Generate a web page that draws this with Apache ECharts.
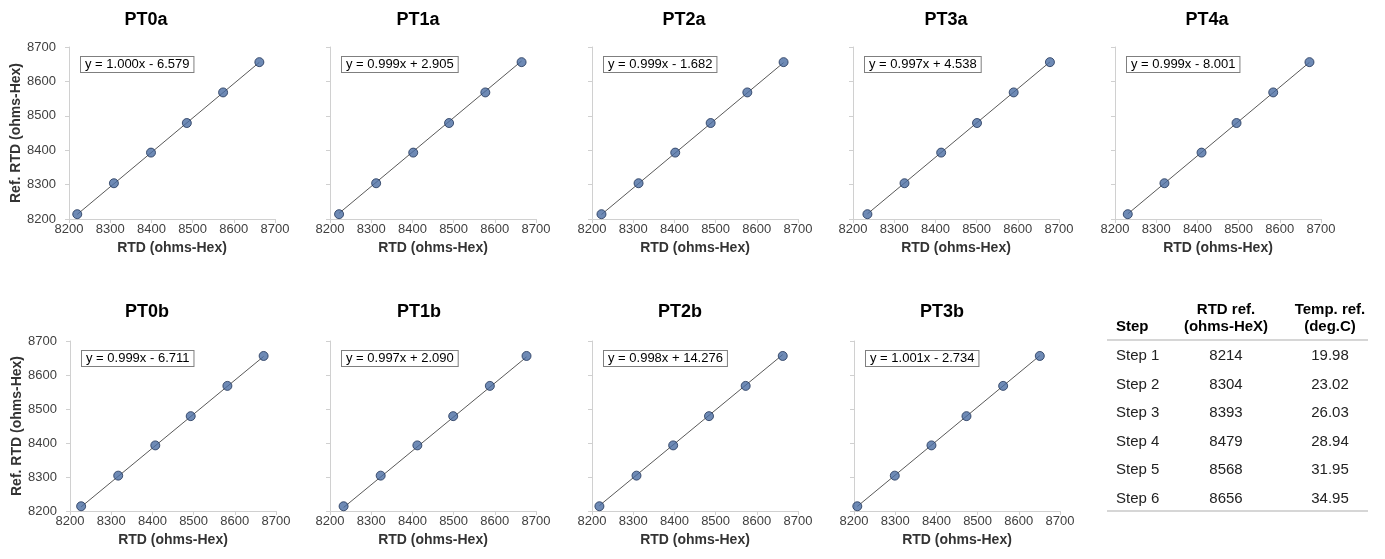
<!DOCTYPE html>
<html>
<head>
<meta charset="utf-8">
<script src="https://cdn.jsdelivr.net/npm/echarts@6/dist/echarts.min.js"></script>
<style>
html,body{margin:0;padding:0;background:#fff;}
#chart{width:1385px;height:559px;}
</style>
</head>
<body>
<div id="chart"></div>
<script>
// ---- data ----
const panelNames = ['PT0a','PT1a','PT2a','PT3a','PT4a','PT0b','PT1b','PT2b','PT3b'];
const refRTD = [8214, 8304, 8393, 8479, 8568, 8656];
const xPT0a = [8220, 8309, 8399, 8486, 8574, 8662];
const xPT1a = [8222, 8312, 8402, 8489, 8577, 8665];
const xPT2a = [8223, 8313, 8402, 8488, 8577, 8665];
const xPT3a = [8235, 8325, 8414, 8501, 8590, 8678];
const xPT4a = [8231, 8320, 8410, 8495, 8584, 8672];
const xPT0b = [8227, 8317, 8407, 8493, 8582, 8670];
const xPT1b = [8233, 8323, 8412, 8499, 8588, 8677];
const xPT2b = [8218, 8308, 8397, 8484, 8573, 8663];
const xPT3b = [8208, 8299, 8388, 8473, 8562, 8651];
const slopes = [1.000, 0.999, 0.999, 0.997, 0.999, 0.999, 0.997, 0.998, 1.001];
const intercepts = [-6.579, 2.905, -1.682, 4.538, -8.001, -6.711, 2.090, 14.276, -2.734];
const axisTicks = [8200, 8300, 8400, 8500, 8600, 8700];
const xTitle = 'RTD (ohms-Hex)';
const yTitle = 'Ref. RTD (ohms-Hex)';
const tableHeader1 = ['', 'RTD ref.', 'Temp. ref.'];
const tableHeader2 = ['Step', '(ohms-HeX)', '(deg.C)'];
const tableSteps = ['Step 1','Step 2','Step 3','Step 4','Step 5','Step 6'];
const tableRTD = ['8214','8304','8393','8479','8568','8656'];
const tableTemp = ['19.98','23.02','26.03','28.94','31.95','34.95'];

const xSets = [xPT0a, xPT1a, xPT2a, xPT3a, xPT4a, xPT0b, xPT1b, xPT2b, xPT3b];

// ---- layout ----
const FONT = "'Liberation Sans', Arial, sans-serif";
const gridLefts = [69, 330, 592, 853, 1115, 70, 330, 592, 854];
const gridTops = [47, 47, 47, 47, 47, 341, 341, 341, 341];
const gridW = 206;
const gridHs = [172, 172, 172, 172, 172, 170, 170, 170, 170];
const titleX = [146, 418, 684, 946, 1207, 147, 419, 680, 942];
const titleY = [20, 20, 20, 20, 20, 312, 312, 312, 312];

const grids = [], xAxes = [], yAxes = [], series = [], graphics = [];
panelNames.forEach((name, i) => {
  const firstCol = (i === 0 || i === 5);
  grids.push({left: gridLefts[i], top: gridTops[i], width: gridW, height: gridHs[i], containLabel: false});
  xAxes.push({
    type: 'value', gridIndex: i, min: axisTicks[0], max: axisTicks[axisTicks.length - 1], interval: 100,
    name: xTitle, nameLocation: 'middle', nameGap: 22,
    nameTextStyle: {fontFamily: FONT, fontSize: 14, fontWeight: 'bold', color: '#333'},
    axisLine: {show: true, lineStyle: {color: '#d0d0d0', width: 1}},
    axisTick: {show: true, inside: false, length: 4, lineStyle: {color: '#d0d0d0'}},
    axisLabel: {fontFamily: FONT, fontSize: 13, color: '#404040', margin: 4, formatter: v => String(v)},
    splitLine: {show: false}
  });
  yAxes.push({
    type: 'value', gridIndex: i, min: axisTicks[0], max: axisTicks[axisTicks.length - 1], interval: 100,
    name: firstCol ? yTitle : '', nameLocation: 'middle', nameGap: 36, nameRotate: 90,
    nameTextStyle: {fontFamily: FONT, fontSize: 14, fontWeight: 'bold', color: '#333'},
    axisLine: {show: true, lineStyle: {color: '#d0d0d0', width: 1}},
    axisTick: {show: true, inside: false, length: 4, lineStyle: {color: '#d0d0d0'}},
    axisLabel: {show: firstCol, fontFamily: FONT, fontSize: 13, color: '#404040', margin: 13, formatter: v => String(v)},
    splitLine: {show: false}
  });
  const xs = xSets[i];
  const x0 = Math.min(...xs), x1 = Math.max(...xs);
  series.push({
    type: 'line', xAxisIndex: i, yAxisIndex: i, symbol: 'none', silent: true,
    lineStyle: {color: '#595959', width: 1}, z: 2,
    data: [[x0, slopes[i] * x0 + intercepts[i]], [x1, slopes[i] * x1 + intercepts[i]]]
  });
  series.push({
    type: 'scatter', xAxisIndex: i, yAxisIndex: i, symbol: 'circle', symbolSize: 9, z: 3,
    itemStyle: {color: '#4a6da3', borderColor: '#1f3357', borderWidth: 1},
    data: xs.map((x, k) => [x, refRTD[k]])
  });
  graphics.push({
    type: 'text', x: titleX[i], y: titleY[i],
    style: {text: name, font: "bold 18px " + FONT, fill: '#000', textAlign: 'center', textVerticalAlign: 'middle'}
  });
  const b = intercepts[i];
  const eq = 'y = ' + slopes[i].toFixed(3) + 'x ' + (b < 0 ? '- ' : '+ ') + Math.abs(b).toFixed(3);
  graphics.push({
    type: 'text', x: gridLefts[i] + 12, y: gridTops[i] + 10,
    style: {text: eq, font: "13px " + FONT, fill: '#000', textAlign: 'left', textVerticalAlign: 'top',
      padding: [1, 4, 1, 4], borderColor: '#7f7f7f', borderWidth: 1, backgroundColor: '#fff'}
  });
});

// ---- table ----
const colX = [1116, 1226, 1330];
const colAlign = ['left', 'center', 'center'];
const TF = "15px " + FONT, TFB = "bold 15px " + FONT;
for (let c = 0; c < 3; c++) {
  if (tableHeader1[c]) graphics.push({type: 'text', x: colX[c], y: 310,
    style: {text: tableHeader1[c], font: TFB, fill: '#000', textAlign: colAlign[c], textVerticalAlign: 'middle'}});
  graphics.push({type: 'text', x: colX[c], y: 327,
    style: {text: tableHeader2[c], font: TFB, fill: '#000', textAlign: colAlign[c], textVerticalAlign: 'middle'}});
}
graphics.push({type: 'line', shape: {x1: 1107, y1: 340, x2: 1368, y2: 340}, style: {stroke: '#c8c8c8', lineWidth: 1.5}});
graphics.push({type: 'line', shape: {x1: 1107, y1: 511, x2: 1368, y2: 511}, style: {stroke: '#c8c8c8', lineWidth: 1.5}});
tableSteps.forEach((s, r) => {
  const y = 356 + r * 28.5;
  const row = [s, tableRTD[r], tableTemp[r]];
  for (let c = 0; c < 3; c++) {
    graphics.push({type: 'text', x: colX[c], y: y,
      style: {text: row[c], font: TF, fill: '#222', textAlign: colAlign[c], textVerticalAlign: 'middle'}});
  }
});

const chart = echarts.init(document.getElementById('chart'), null, {renderer: 'canvas'});
chart.setOption({
  animation: false,
  backgroundColor: '#fff',
  grid: grids, xAxis: xAxes, yAxis: yAxes, series: series,
  graphic: graphics
});
</script>
</body>
</html>
